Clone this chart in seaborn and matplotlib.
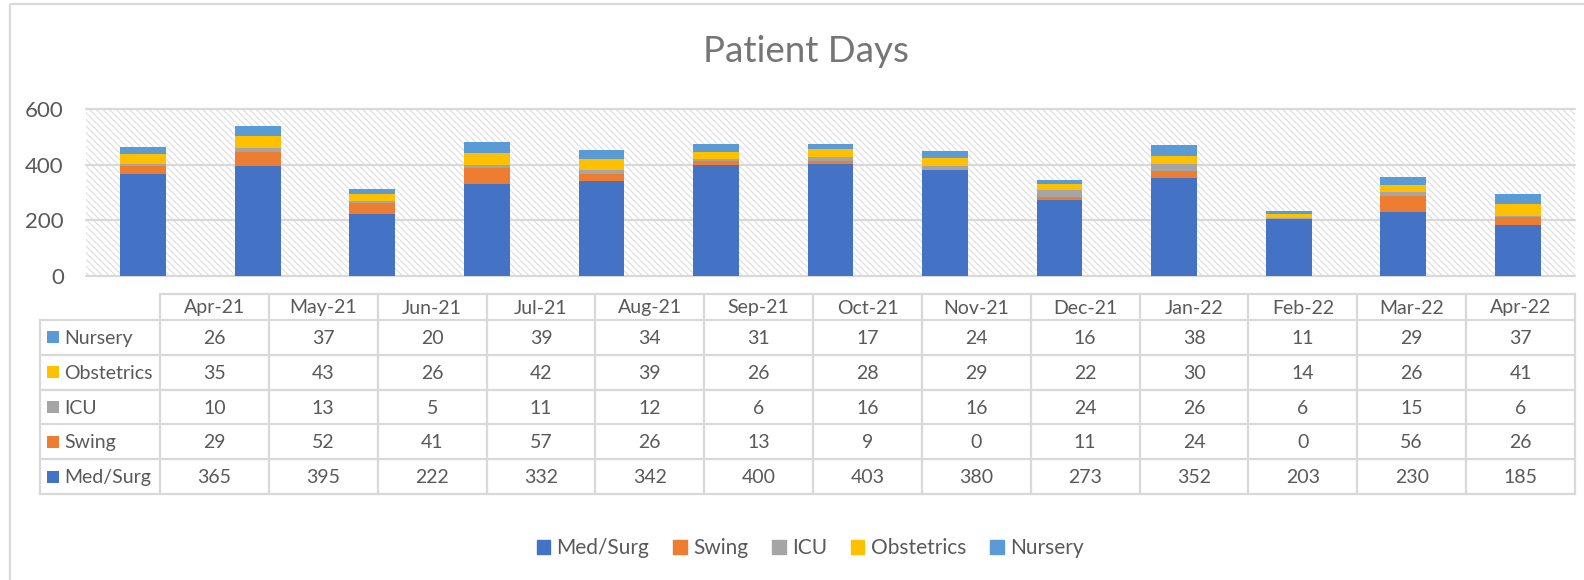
import matplotlib
matplotlib.use("Agg")
import matplotlib.pyplot as plt
from matplotlib.patches import Rectangle, Patch
import seaborn as sns
import pandas as pd

months = ["Apr-21", "May-21", "Jun-21", "Jul-21", "Aug-21", "Sep-21", "Oct-21",
          "Nov-21", "Dec-21", "Jan-22", "Feb-22", "Mar-22", "Apr-22"]
series = ["Med/Surg", "Swing", "ICU", "Obstetrics", "Nursery"]
med_surg = [365, 395, 222, 332, 342, 400, 403, 380, 273, 352, 203, 230, 185]
swing = [29, 52, 41, 57, 26, 13, 9, 0, 11, 24, 0, 56, 26]
icu = [10, 13, 5, 11, 12, 6, 16, 16, 24, 26, 6, 15, 6]
obstetrics = [35, 43, 26, 42, 39, 26, 28, 29, 22, 30, 14, 26, 41]
nursery = [26, 37, 20, 39, 34, 31, 17, 24, 16, 38, 11, 29, 37]
colors = ["#4472C4", "#ED7D31", "#A5A5A5", "#FFC000", "#5B9BD5"]
y_ticks = [0, 200, 400, 600]

TEXT = "#595959"
LINE = "#d9d9d9"

sns.set_theme(style="white")
plt.rcParams["font.family"] = ["Lato", "DejaVu Sans"]
plt.rcParams["hatch.linewidth"] = 0.8

W, H = 1584, 580
fig = plt.figure(figsize=(W / 100, H / 100), dpi=100)


def box(l, t, r, b):
    # pixel box -> figure fraction
    return [l / W, 1 - b / H, (r - l) / W, (b - t) / H]


df = pd.DataFrame({"month": months, "Med/Surg": med_surg, "Swing": swing,
                   "ICU": icu, "Obstetrics": obstetrics, "Nursery": nursery})
cum = df[series].cumsum(axis=1)

ax = fig.add_axes(box(86, 109, 1575, 276))
ax.add_patch(Rectangle((0, 0), 1, 1, transform=ax.transAxes, facecolor="white",
                       edgecolor="#dedede", hatch="\\\\\\\\\\", lw=0, zorder=0))

# stacked bars: draw running totals from the top series down
for name, col in reversed(list(zip(series, colors))):
    sns.barplot(x=df["month"], y=cum[name], color=col, width=0.4, saturation=1,
                errorbar=None, ax=ax, zorder=3, linewidth=0)

ax.set_xlim(-0.5, len(months) - 0.5)
ax.set_ylim(0, 600)
ax.set_yticks(y_ticks)
ax.set_xticks([])
ax.set_xlabel("")
ax.set_ylabel("")
ax.set_axisbelow(True)
ax.yaxis.grid(True, color=LINE, lw=1.6)
for gl in ax.get_ygridlines():
    gl.set_clip_on(False)
for s in ax.spines.values():
    s.set_visible(False)
ax.tick_params(axis="y", length=0, pad=16, labelsize=16, labelcolor=TEXT)

# data table drawn in pixel space
tab = fig.add_axes([0, 0, 1, 1])
tab.set_xlim(0, W)
tab.set_ylim(H, 0)
tab.axis("off")
tab.patch.set_visible(False)

label_left, tbl_left, tbl_right = 40, 160, 1575
head_top, head_bot, tbl_bot = 294, 320, 494
col_w = (tbl_right - tbl_left) / len(months)
row_h = (tbl_bot - head_bot) / len(series)
rows = list(zip(series, colors, [med_surg, swing, icu, obstetrics, nursery]))[::-1]

kw = dict(color=LINE, lw=1.6, solid_capstyle="projecting")
tab.plot([tbl_left, tbl_right], [head_top, head_top], **kw)
for i in range(len(series) + 1):
    y = head_bot + i * row_h
    tab.plot([label_left, tbl_right], [y, y], **kw)
tab.plot([label_left, label_left], [head_bot, tbl_bot], **kw)
for j in range(len(months) + 1):
    x = tbl_left + j * col_w
    tab.plot([x, x], [head_top, tbl_bot], **kw)

for j, m in enumerate(months):
    tab.text(tbl_left + (j + 0.5) * col_w, (head_top + head_bot) / 2 + 1, m,
             ha="center", va="center", fontsize=14, color=TEXT)

for i, (name, col, vals) in enumerate(rows):
    yc = head_bot + (i + 0.5) * row_h
    tab.add_patch(Rectangle((47, yc - 6), 12, 12, color=col, lw=0))
    tab.text(64, yc + 1, name, ha="left", va="center", fontsize=14, color=TEXT)
    for j, v in enumerate(vals):
        tab.text(tbl_left + (j + 0.5) * col_w, yc + 1, str(v),
                 ha="center", va="center", fontsize=14, color=TEXT)

# chart border
tab.add_patch(Rectangle((10, 4), W + 20, H + 20, fill=False, edgecolor=LINE,
                        lw=1.6, clip_on=False))

fig.text(806 / W, 1 - 52 / H, "Patient Days", ha="center", va="center",
         fontsize=26.5, color="#757575")

handles = [Patch(color=c, label=s) for s, c in zip(series, colors)]
fig.legend(handles=handles, loc="center", bbox_to_anchor=(810 / W, 1 - 548 / H),
           ncol=5, frameon=False, fontsize=15, handlelength=0.65, handleheight=0.65,
           handletextpad=0.3, columnspacing=1.15, labelcolor=TEXT)

fig.savefig("out.png", dpi=100)
